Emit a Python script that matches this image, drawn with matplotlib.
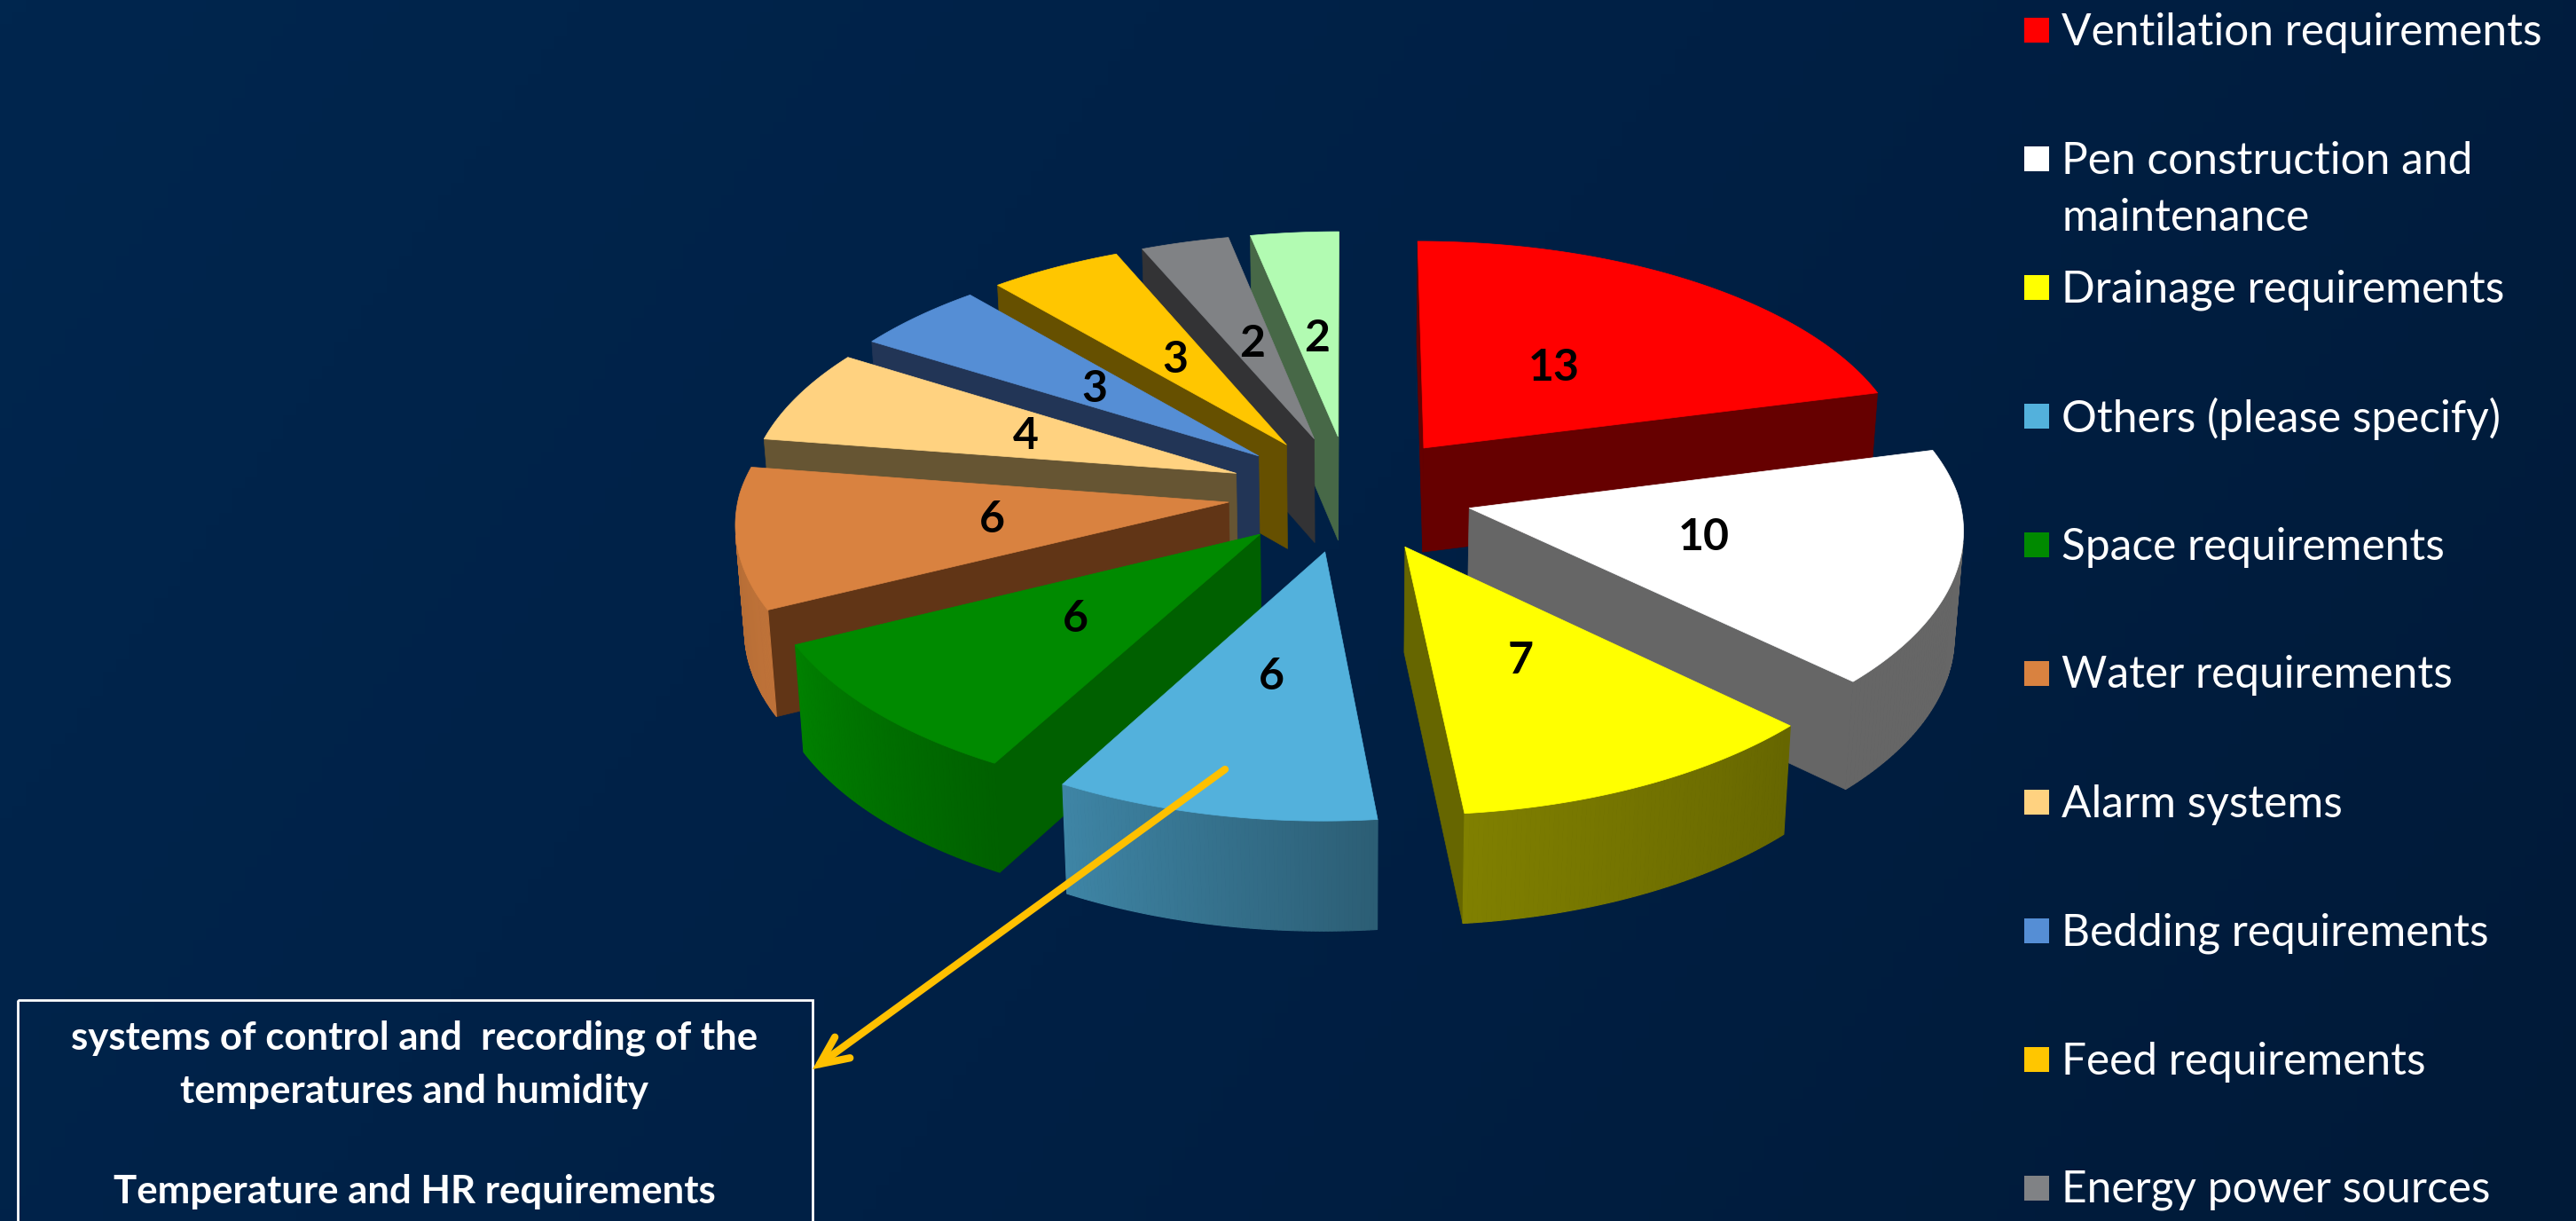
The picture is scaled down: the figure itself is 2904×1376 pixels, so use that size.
#!/usr/bin/env python3
"""Exploded 3D pie of housing requirements, drawn by hand on a pixel canvas"""

import numpy as np
import matplotlib
matplotlib.use("Agg")
import matplotlib.pyplot as plt
from matplotlib.colors import LinearSegmentedColormap, to_rgb
from matplotlib.patches import Polygon, Rectangle

values = [13, 10, 7, 6, 6, 6, 4, 3, 3, 2, 2]
legend_labels = [
    "Ventilation requirements",
    "Pen construction and\nmaintenance",
    "Drainage requirements",
    "Others (please specify)",
    "Space requirements",
    "Water requirements",
    "Alarm systems",
    "Bedding requirements",
    "Feed requirements",
    "Energy power sources",
]
top_colors = ["#FF0000", "#FFFFFF", "#FFFF00", "#53B1DC", "#008A00", "#D98240",
              "#FFD280", "#558ED5", "#FFC600", "#808285", "#B2FBB2"]
wall_colors = ["#660000", "#666666", "#666600", "#2C5C74", "#006000", "#613516",
               "#665533", "#223556", "#665000", "#333335", "#476847"]
rim_shade_start = [0.40, 0.40, 0.40, 0.53, 0.70, 0.88, 0.6, 0.6, 0.6, 0.6, 0.6]
rim_shade_end = [0.40, 0.40, 0.50, 0.75, 0.93, 0.80, 0.6, 0.6, 0.6, 0.6, 0.6]
box_lines = ["systems of control and  recording of the",
             "temperatures and humidity",
             "",
             "Temperature and HR requirements"]

W, H = 2904, 1376
CX, CY = 1522, 556     # pie centre in pixels
RX, RY = 552, 263      # ellipse radii of the top face
EXPLODE = 0.25
DEPTH = 118
PERSP = 11.0


def project(x, y):
    """Unit disc coords (y towards the back) to canvas pixels, top face"""
    s = PERSP / (PERSP + y)
    # front half widens a bit less than it drops in the source
    sx = s if y > 0 else 1 + (s - 1) * 0.85
    return CX + RX * x * sx, CY - RY * y * s


def drop(y):
    """Height of the extrusion at depth y, weaker than full perspective"""
    s = PERSP / (PERSP + y)
    return DEPTH * (1 + (s - 1) * 0.4)


def under(p):
    """Bottom-face point below disc coords p, pulled slightly to the centre"""
    px, py = project(*p)
    return CX + (px - CX) * 0.985, py + drop(p[1])


def signed_area(pts):
    pts = np.asarray(pts)
    x, y = pts[:, 0], pts[:, 1]
    return 0.5 * np.sum(x * np.roll(y, -1) - np.roll(x, -1) * y)


def wall(p0, p1):
    """Quad under the top edge p0-p1, both in disc coords"""
    return [project(*p0), project(*p1), under(p1), under(p0)]


def shade(color, f):
    return tuple(c * f for c in to_rgb(color))


fig = plt.figure(figsize=(W / 100, H / 100), dpi=100)
ax = fig.add_axes([0, 0, 1, 1])
ax.set_xlim(0, W)
ax.set_ylim(H, 0)
ax.axis("off")

# diagonal background gradient
gx, gy = np.meshgrid(np.linspace(0, 1, 200), np.linspace(0, 1, 100))
bg = LinearSegmentedColormap.from_list("bg", ["#00264E", "#002045", "#001A38"])
ax.imshow(0.75 * gx + 0.25 * gy, cmap=bg, extent=(0, W, H, 0), aspect="auto", zorder=0)

edges = np.cumsum([0] + values) / sum(values) * 2 * np.pi
slices = []
for i in range(len(values)):
    t0, t1 = edges[i], edges[i + 1]
    mid = (t0 + t1) / 2
    ox, oy = EXPLODE * np.sin(mid), EXPLODE * np.cos(mid)
    slices.append((oy, i, t0, t1, mid, ox))

# back slices first so nearer ones paint over them
z = 2
for oy, i, t0, t1, mid, ox in sorted(slices, reverse=True):
    ts = np.linspace(t0, t1, 80)
    arc = [(ox + np.sin(t), oy + np.cos(t)) for t in ts]
    apex = (ox, oy)

    # clockwise polygon on screen, so a visible wall has one fixed area sign
    top = [project(*apex)] + [project(*p) for p in arc]
    sign = np.sign(signed_area(top))

    for p0, p1 in [(apex, arc[0]), (arc[-1], apex)]:
        quad = wall(p0, p1)
        if np.sign(signed_area(quad)) == -sign:
            ax.add_patch(Polygon(quad, closed=True, fc=wall_colors[i], ec=wall_colors[i],
                                 lw=0.5, zorder=z))

    for k in range(len(arc) - 1):
        quad = wall(arc[k], arc[k + 1])
        if np.sign(signed_area(quad)) == -sign:
            f = rim_shade_start[i] + (rim_shade_end[i] - rim_shade_start[i]) * k / (len(arc) - 2)
            c = shade(top_colors[i], f)
            ax.add_patch(Polygon(quad, closed=True, fc=c, ec=c, lw=0.8, zorder=z))

    ax.add_patch(Polygon(top, closed=True, fc=top_colors[i], ec=top_colors[i], lw=0.5, zorder=z + 1))
    z += 2

    r = 0.71 + 0.02 * (1 - np.cos(mid))
    lx, ly = project(r * np.sin(mid), r * np.cos(mid))
    ax.text(lx, ly, str(values[i]), ha="center", va="center", fontsize=36,
            fontweight="bold", family="Lato", color="black", zorder=60)

# legend, last entries fall off the slide in the source
for i, label in enumerate(legend_labels):
    row = 33.5 + 145 * i
    ax.add_patch(Rectangle((2282, row - 14), 28, 28, fc=top_colors[i], ec="none", zorder=50))
    for j, line in enumerate(label.split("\n")):
        ax.text(2324, row + 3 + 65 * j, line, ha="left", va="center", fontsize=35.7,
                family="Lato", color="white", zorder=50)

# note box, cut by the lower edge
ax.add_patch(Rectangle((20, 1127), 896, 300, fc="none", ec="white", lw=2, zorder=50, clip_on=True))
for line, y in zip(box_lines, [1170, 1230, 1285, 1343]):
    if line:
        ax.text(467, y, line, ha="center", va="center", fontsize=31.5, fontweight="bold",
                family="Lato", color="white", zorder=50)

ax.annotate("", xy=(916, 1205), xytext=(1381, 867),
            arrowprops=dict(arrowstyle="->,head_length=1.2,head_width=0.55", color="#FFC000",
                            lw=6, mutation_scale=19, capstyle="round", joinstyle="miter",
                            shrinkA=0, shrinkB=0), zorder=55)

fig.savefig("out.png", dpi=100)
